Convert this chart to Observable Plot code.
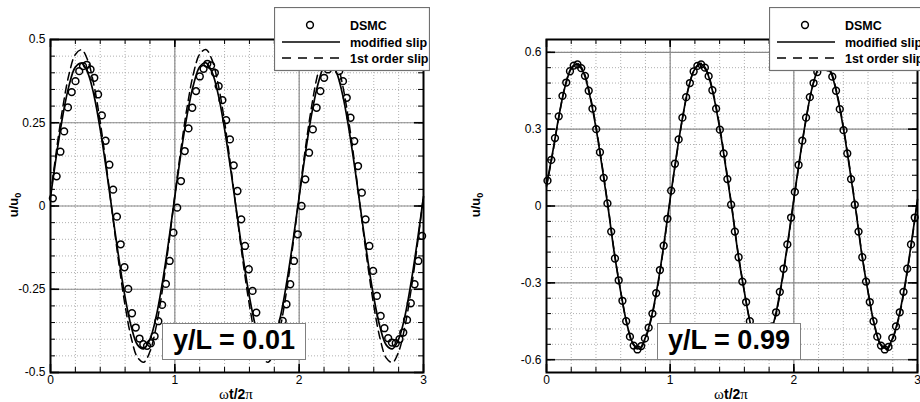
<!DOCTYPE html>
<html>
<head>
<meta charset="utf-8">
<script src="https://cdn.jsdelivr.net/npm/d3@7"></script>
<script src="https://cdn.jsdelivr.net/npm/@observablehq/plot@0.6"></script>
<style>
  html, body { margin: 0; padding: 0; background: #fff; overflow: hidden; }
  #root { position: relative; width: 920px; height: 402px; overflow: hidden; font-family: "Liberation Sans", Arial, Helvetica, sans-serif; }
  #root > svg.plot-panel { position: absolute; top: 0; }
  .tag { position: absolute; box-sizing: border-box; background: #fff; border: 1.5px solid #808080;
         font-weight: bold; font-size: 27px; line-height: 33px; text-align: center; color: #000; white-space: nowrap; }
  .ylab { position: absolute; width: 60px; height: 16px; margin-left: -30px; margin-top: -8px; text-align: center;
          font-weight: bold; font-size: 13px; line-height: 16px; transform: rotate(-90deg); white-space: nowrap; }
  .ylab sub { font-size: 9px; vertical-align: -3px; line-height: 0; }
  .xlab { position: absolute; width: 100px; margin-left: -50px; text-align: center; font-weight: bold; font-size: 14px; line-height: 16px; white-space: nowrap; }
  .xlab .sym { font-family: "Liberation Serif", "DejaVu Serif", serif; font-weight: normal; font-size: 15px; }
</style>
</head>
<body>
<div id="root"></div>
<script>
// ---------------- data ----------------
const xMajor = [0, 1, 2, 3];
const xTickLabels = ["0", "1", "2", "3"];
const xMinor = [0, 0.2, 0.4, 0.6, 0.8, 1, 1.2, 1.4, 1.6, 1.8, 2, 2.2, 2.4, 2.6, 2.8, 3];

const leftYMajor = [-0.5, -0.25, 0, 0.25, 0.5];
const leftYLabels = ["-0.5", "-0.25", "0", "0.25", "0.5"];
const leftYMinor = [-0.5, -0.45, -0.4, -0.35, -0.3, -0.25, -0.2, -0.15, -0.1, -0.05, 0,
                    0.05, 0.1, 0.15, 0.2, 0.25, 0.3, 0.35, 0.4, 0.45, 0.5];

const rightYMajor = [-0.6, -0.3, 0, 0.3, 0.6];
const rightYLabels = ["-0.6", "-0.3", "0", "0.3", "0.6"];
const rightYMinor = [-0.6, -0.54, -0.48, -0.42, -0.36, -0.3, -0.24, -0.18, -0.12, -0.06, 0,
                     0.06, 0.12, 0.18, 0.24, 0.3, 0.36, 0.42, 0.48, 0.54, 0.6];

const seriesNames = ["DSMC", "modified slip", "1st order slip"];
const panelTags = ["y/L = 0.01", "y/L = 0.99"];

// model curves sampled every 0.05 in ωt/2π, starting at 0
const curveStep = 0.05;
const leftModified = [
  0.027, 0.158, 0.274, 0.363, 0.417, 0.429, 0.400, 0.332, 0.230, 0.107, -0.027, -0.158, -0.274, -0.363, -0.417, -0.429, -0.400, -0.332, -0.230, -0.107,
  0.029, 0.160, 0.276, 0.364, 0.418, 0.430, 0.401, 0.333, 0.231, 0.108, -0.026, -0.157, -0.273, -0.362, -0.416, -0.428, -0.399, -0.331, -0.229, -0.106,
  0.028, 0.159, 0.275, 0.364, 0.418, 0.430, 0.401, 0.333, 0.231, 0.108, -0.026, -0.158, -0.274, -0.363, -0.417, -0.429, -0.400, -0.332, -0.230, -0.107,
  0.028];
const leftFirstOrder = [
  0.030, 0.173, 0.299, 0.397, 0.455, 0.469, 0.437, 0.362, 0.252, 0.117, -0.030, -0.173, -0.299, -0.397, -0.455, -0.469, -0.437, -0.362, -0.252, -0.117,
  0.031, 0.174, 0.300, 0.398, 0.456, 0.470, 0.438, 0.363, 0.253, 0.118, -0.029, -0.172, -0.298, -0.396, -0.455, -0.469, -0.437, -0.362, -0.252, -0.117,
  0.030, 0.173, 0.299, 0.397, 0.456, 0.470, 0.437, 0.362, 0.252, 0.117, -0.030, -0.173, -0.299, -0.397, -0.456, -0.470, -0.438, -0.363, -0.253, -0.118,
  0.030];
const rightModified = [
  0.080, 0.210, 0.350, 0.466, 0.536, 0.553, 0.520, 0.431, 0.305, 0.152, -0.013, -0.190, -0.335, -0.460, -0.537, -0.557, -0.513, -0.430, -0.305, -0.146,
  0.028, 0.195, 0.345, 0.465, 0.535, 0.553, 0.520, 0.432, 0.305, 0.150, -0.012, -0.190, -0.335, -0.461, -0.538, -0.556, -0.514, -0.430, -0.303, -0.145,
  0.027, 0.193, 0.343, 0.465, 0.535, 0.552, 0.520, 0.432, 0.305, 0.150, -0.012, -0.190, -0.335, -0.461, -0.538, -0.556, -0.514, -0.430, -0.303, -0.145,
  0.026];
const rightFirstOrder = [
  0.075, 0.205, 0.348, 0.466, 0.538, 0.557, 0.525, 0.438, 0.312, 0.158, -0.008, -0.185, -0.333, -0.460, -0.540, -0.561, -0.518, -0.436, -0.311, -0.152,
  0.024, 0.190, 0.343, 0.464, 0.537, 0.557, 0.525, 0.438, 0.312, 0.157, -0.008, -0.185, -0.333, -0.461, -0.541, -0.561, -0.519, -0.436, -0.310, -0.151,
  0.023, 0.189, 0.342, 0.464, 0.537, 0.556, 0.525, 0.438, 0.312, 0.157, -0.008, -0.185, -0.333, -0.461, -0.541, -0.561, -0.519, -0.436, -0.310, -0.151,
  0.022];

// DSMC samples, every 1/33 of a period
const dsmcStep = 1 / 33;
const leftDsmcStart = 0.019;
const leftDsmc = [
  0.023, 0.089, 0.163, 0.224, 0.296, 0.342, 0.375, 0.405, 0.420, 0.424, 0.410, 0.385, 0.335, 0.272, 0.196, 0.124, 0.049,
  -0.032, -0.115, -0.184, -0.249, -0.322, -0.365, -0.398, -0.415, -0.420, -0.412, -0.391, -0.346, -0.297, -0.234, -0.165, -0.080,
  -0.005, 0.075, 0.165, 0.233, 0.295, 0.345, 0.389, 0.412, 0.427, 0.422, 0.400, 0.360, 0.318, 0.258, 0.200, 0.122, 0.045,
  -0.040, -0.120, -0.190, -0.255, -0.320, -0.365, -0.400, -0.418, -0.420, -0.410, -0.390, -0.345, -0.295, -0.235, -0.165, -0.085,
  0.000, 0.080, 0.160, 0.230, 0.295, 0.345, 0.385, 0.410, 0.425, 0.425, 0.405, 0.375, 0.325, 0.265, 0.195, 0.120, 0.040,
  -0.040, -0.120, -0.195, -0.270, -0.330, -0.367, -0.397, -0.410, -0.412, -0.400, -0.380, -0.342, -0.292, -0.235, -0.165, -0.090];
const rightDsmcStart = 0.008;
const rightDsmc = [
  0.099, 0.180, 0.265, 0.350, 0.430, 0.482, 0.526, 0.548, 0.553, 0.538, 0.508, 0.450, 0.380, 0.300, 0.210, 0.110, 0.010,
  -0.100, -0.205, -0.290, -0.370, -0.450, -0.510, -0.545, -0.560, -0.547, -0.517, -0.475, -0.420, -0.340, -0.250, -0.155, -0.050,
  0.060, 0.165, 0.260, 0.345, 0.425, 0.480, 0.525, 0.547, 0.553, 0.540, 0.507, 0.452, 0.380, 0.298, 0.205, 0.105, 0.005,
  -0.100, -0.200, -0.295, -0.375, -0.450, -0.510, -0.545, -0.560, -0.548, -0.515, -0.470, -0.415, -0.335, -0.245, -0.150, -0.045,
  0.055, 0.160, 0.255, 0.345, 0.425, 0.480, 0.523, 0.546, 0.552, 0.540, 0.505, 0.450, 0.378, 0.296, 0.205, 0.105, 0.005,
  -0.100, -0.200, -0.295, -0.375, -0.450, -0.510, -0.545, -0.560, -0.550, -0.515, -0.470, -0.415, -0.335, -0.245, -0.150, -0.045];

// ---------------- drawing ----------------
const root = document.getElementById("root");
const FONT = "Liberation Sans, Arial, Helvetica, sans-serif";
const H = 402, MT = 39, MB = 30;

function curveRows(vals) { return vals.map((u, i) => ({t: i * curveStep, u})); }
function dsmcRows(start, vals) { return vals.map((u, i) => ({t: start + i * dsmcStep, u})); }

function panel({left, width, ml, mr, yDomain, yMajor, yLabels, yMinor, modified, firstOrder, dsmc}) {
  const fw = width - ml - mr, fh = H - MT - MB;
  const inside = (v, d) => v > d[0] + 1e-9 && v < d[1] - 1e-9;
  const xLab = new Map(xMajor.map((v, i) => [v, xTickLabels[i]]));
  const yLab = new Map(yMajor.map((v, i) => [v, yLabels[i]]));
  const minorGrid = {stroke: "#b0b0b0", strokeWidth: 1, strokeDasharray: "1,2"};
  const majorGrid = {stroke: "#8a8a8a", strokeWidth: 1.2};
  const svg = Plot.plot({
    width, height: H, marginTop: MT, marginBottom: MB, marginLeft: ml, marginRight: mr,
    style: {background: "transparent", fontFamily: FONT, fontSize: "12px", color: "#000"},
    x: {domain: [0, 3]},
    y: {domain: yDomain},
    marks: [
      Plot.ruleX(xMinor.filter(v => inside(v, [0, 3])), minorGrid),
      Plot.ruleY(yMinor.filter(v => inside(v, yDomain)), minorGrid),
      Plot.ruleX(xMajor.filter(v => inside(v, [0, 3])), majorGrid),
      Plot.ruleY(yMajor.filter(v => inside(v, yDomain)), majorGrid),
      // inward ticks on all four sides
      Plot.tickX(xMinor, {insetTop: fh - 5, stroke: "#000", strokeWidth: 1}),
      Plot.tickX(xMinor, {insetBottom: fh - 5, stroke: "#000", strokeWidth: 1}),
      Plot.tickX(xMajor, {insetTop: fh - 8, stroke: "#000", strokeWidth: 1.6}),
      Plot.tickX(xMajor, {insetBottom: fh - 8, stroke: "#000", strokeWidth: 1.6}),
      Plot.tickY(yMinor, {insetRight: fw - 5, stroke: "#000", strokeWidth: 1}),
      Plot.tickY(yMinor, {insetLeft: fw - 5, stroke: "#000", strokeWidth: 1}),
      Plot.tickY(yMajor, {insetRight: fw - 9, stroke: "#000", strokeWidth: 1.6}),
      Plot.tickY(yMajor, {insetLeft: fw - 9, stroke: "#000", strokeWidth: 1.6}),
      // data
      Plot.line(curveRows(firstOrder), {x: "t", y: "u", curve: "catmull-rom", stroke: "#000", strokeWidth: 1.5, strokeDasharray: "8,5"}),
      Plot.line(curveRows(modified), {x: "t", y: "u", curve: "catmull-rom", stroke: "#000", strokeWidth: 1.7}),
      Plot.dot(dsmc, {x: "t", y: "u", r: 3.4, stroke: "#000", strokeWidth: 1.5, fill: "none"}),
      Plot.frame({stroke: "#000", strokeWidth: 2}),
      Plot.axisX(xMajor, {tickSize: 0, tickPadding: 3, tickFormat: d => xLab.get(d), label: null, fontSize: 12}),
      Plot.axisY(yMajor, {tickSize: 0, tickPadding: 5, tickFormat: d => yLab.get(d), label: null, fontSize: 12})
    ]
  });
  svg.classList.add("plot-panel");
  svg.style.left = left + "px";
  root.appendChild(svg);
}

panel({left: 0, width: 460, ml: 50, mr: 37, yDomain: [-0.5, 0.5], yMajor: leftYMajor, yLabels: leftYLabels, yMinor: leftYMinor,
       modified: leftModified, firstOrder: leftFirstOrder, dsmc: dsmcRows(leftDsmcStart, leftDsmc)});
panel({left: 460, width: 460, ml: 86, mr: 3, yDomain: [-0.65, 0.65], yMajor: rightYMajor, yLabels: rightYLabels, yMinor: rightYMinor,
       modified: rightModified, firstOrder: rightFirstOrder, dsmc: dsmcRows(rightDsmcStart, rightDsmc)});

// legends
function legend(left, top, w) {
  const svg = d3.select(root).append("svg")
    .attr("width", w).attr("height", 65)
    .style("position", "absolute").style("left", left + "px").style("top", top + "px");
  svg.append("rect").attr("x", 0.5).attr("y", 0.5).attr("width", w - 1).attr("height", 63)
    .attr("fill", "#fff").attr("stroke", "#707070").attr("stroke-width", 1.2);
  svg.append("circle").attr("cx", 36).attr("cy", 18).attr("r", 3.4)
    .attr("fill", "none").attr("stroke", "#000").attr("stroke-width", 1.5);
  svg.append("line").attr("x1", 8).attr("x2", 66).attr("y1", 35).attr("y2", 35)
    .attr("stroke", "#000").attr("stroke-width", 1.7);
  svg.append("line").attr("x1", 8).attr("x2", 66).attr("y1", 51).attr("y2", 51)
    .attr("stroke", "#000").attr("stroke-width", 1.5).attr("stroke-dasharray", "9,7");
  [18, 35, 51].forEach((y, i) => {
    svg.append("text").attr("x", 76).attr("y", y).attr("dy", "0.36em")
      .attr("font-family", FONT).attr("font-weight", "bold").attr("font-size", 12.5)
      .text(seriesNames[i]);
  });
}
legend(274, 7, 156);
legend(769, 7, 170);

// panel tags
function tag(left, top, text) {
  const d = document.createElement("div");
  d.className = "tag";
  d.style.left = left + "px"; d.style.top = top + "px";
  d.style.width = "144px"; d.style.height = "37px";
  d.textContent = text;
  root.appendChild(d);
}
tag(162, 323, panelTags[0]);
tag(657, 323, panelTags[1]);

// axis titles
function ylab(cx, cy) {
  const d = document.createElement("div");
  d.className = "ylab";
  d.style.left = cx + "px"; d.style.top = cy + "px";
  d.innerHTML = "u/u<sub>0</sub>";
  root.appendChild(d);
}
function xlab(cx, top) {
  const d = document.createElement("div");
  d.className = "xlab";
  d.style.left = cx + "px"; d.style.top = top + "px";
  d.innerHTML = '<span class="sym">ω</span>t/2<span class="sym">π</span>';
  root.appendChild(d);
}
ylab(14, 205); ylab(476, 205);
xlab(236, 386); xlab(731, 386);
</script>
</body>
</html>
